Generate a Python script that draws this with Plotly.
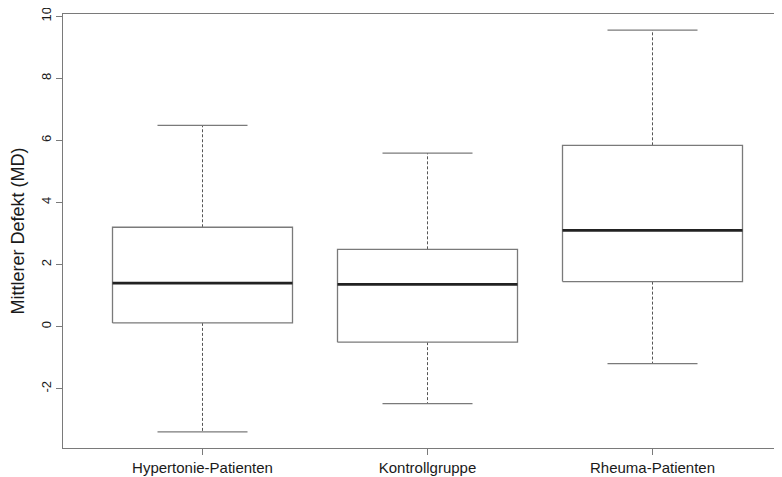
import plotly.graph_objects as go

categories = ["Hypertonie-Patienten", "Kontrollgruppe", "Rheuma-Patienten"]
lower_whisker = [-3.39, -2.48, -1.19]
q1 = [0.12, -0.50, 1.45]
median = [1.40, 1.36, 3.10]
q3 = [3.20, 2.49, 5.84]
upper_whisker = [6.48, 5.59, 9.55]
y_ticks = [-2, 0, 2, 4, 6, 8, 10]

FONT = "Liberation Sans, Arial, Helvetica, sans-serif"
BOX_HALF = 0.4
CAP_HALF = 0.2
GRAY = "#7a7a7a"

# page has an 8px body margin; figure is sized to fill the rest of the window
W, H = 774, 469
L, T, B = 55, 6, 29

fig = go.Figure()
for i, name in enumerate(categories):
    x0 = i + 1
    fig.add_trace(go.Scatter(
        x=[x0, x0, None, x0, x0],
        y=[q3[i], upper_whisker[i], None, q1[i], lower_whisker[i]],
        mode="lines", line=dict(color="#555555", width=1, dash="3px,2px"),
        hoverinfo="skip", showlegend=False))
    fig.add_trace(go.Scatter(
        x=[x0 - CAP_HALF, x0 + CAP_HALF, None, x0 - CAP_HALF, x0 + CAP_HALF],
        y=[upper_whisker[i], upper_whisker[i], None, lower_whisker[i], lower_whisker[i]],
        mode="lines", line=dict(color=GRAY, width=1.3),
        hoverinfo="skip", showlegend=False))
    fig.add_trace(go.Scatter(
        x=[x0 - BOX_HALF, x0 + BOX_HALF, x0 + BOX_HALF, x0 - BOX_HALF, x0 - BOX_HALF],
        y=[q1[i], q1[i], q3[i], q3[i], q1[i]],
        mode="lines", line=dict(color=GRAY, width=1.3),
        fill="toself", fillcolor="white",
        hoverinfo="skip", showlegend=False))
    fig.add_trace(go.Scatter(
        x=[x0 - BOX_HALF, x0 + BOX_HALF],
        y=[median[i], median[i]],
        mode="lines", line=dict(color="#222222", width=2.6),
        hoverinfo="skip", showlegend=False))

fig.update_layout(
    width=W, height=H,
    margin=dict(l=L, r=0, t=T, b=B, autoexpand=False),
    paper_bgcolor="white", plot_bgcolor="white",
    font=dict(family=FONT, size=15, color="#1a1a1a"),
    xaxis=dict(
        range=[0.38, 0.38 + (W - L) / 225.0],
        tickvals=[1, 2, 3], ticktext=categories,
        ticks="outside", ticklen=6, tickcolor=GRAY, tickwidth=1,
        showline=True, linecolor=GRAY, linewidth=1.3, mirror=True,
        showgrid=False, zeroline=False, automargin=False,
        tickfont=dict(size=15),
    ),
    yaxis=dict(
        range=[-3.91, 10.07],
        tickvals=y_ticks, ticktext=[str(v) for v in y_ticks],
        tickangle=-90, ticklabeloverflow="allow",
        ticks="outside", ticklen=6, tickcolor=GRAY, tickwidth=1,
        showline=True, linecolor=GRAY, linewidth=1.3,
        showgrid=False, zeroline=False, automargin=False,
        tickfont=dict(size=13),
        title=dict(text="Mittlerer Defekt (MD)", font=dict(size=18), standoff=11),
    ),
)

fig.write_html("out.html")
